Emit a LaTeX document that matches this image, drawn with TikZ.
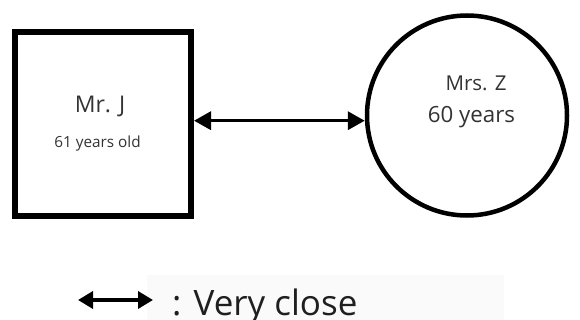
\documentclass[tikz,border=0pt]{standalone}
\usepackage{fontspec}
\setmainfont{Open Sans}
\usetikzlibrary{arrows.meta,positioning}

\tikzset{
  person/.style={draw=black, fill=white, inner sep=0pt},
  male/.style={person, rectangle, line width=6pt, minimum width=176pt, minimum height=184pt},
  female/.style={person, circle, line width=4.5pt, minimum size=200pt},
  tag/.style={anchor=base, inner sep=0pt, text=black!80},
  veryclose/.style={{Triangle[length=17pt,width=18pt]}-{Triangle[length=17pt,width=18pt]}, line width=3.5pt},
  keyarrow/.style={{Triangle[length=15pt,width=17pt]}-{Triangle[length=15pt,width=17pt]}, line width=3.5pt}
}

\begin{document}
\begin{tikzpicture}[x=1pt,y=-1pt]
  \useasboundingbox (0,0) rectangle (580,320);
  \node[fill=black!2, minimum width=357pt, minimum height=45pt, inner sep=0pt] (keybg) at (325.5,297.5) {};

  \node[male] (mrj) at (103,124) {};
  \node[female] (mrsz) at (467,115.5) {};

  \node[tag, font=\fontsize{23}{27}\selectfont] (mrjname) at (100,112.5) {Mr. J};
  \node[tag, font=\fontsize{15.3}{18}\selectfont] (mrjage) at (97.5,148) {61 years old};
  \node[tag, font=\fontsize{20.5}{24}\selectfont] (mrszname) at (476,90.5) {Mrs. Z};
  \node[tag, font=\fontsize{22.3}{26}\selectfont] (mrszage) at (471.5,123) {60 years};

  \draw[veryclose] (mrj.east |- 0,120.7) -- (mrsz.west |- 0,120.7);

  % key
  \coordinate (keyl) at (78,300);
  \coordinate (keyr) at (153,300);
  \draw[keyarrow] (keyl) -- (keyr);
  \node[anchor=base west, inner sep=0pt, text=black!88, font=\fontsize{35}{40}\selectfont] (keytext) at (172,315) {: Very close};
\end{tikzpicture}
\end{document}
